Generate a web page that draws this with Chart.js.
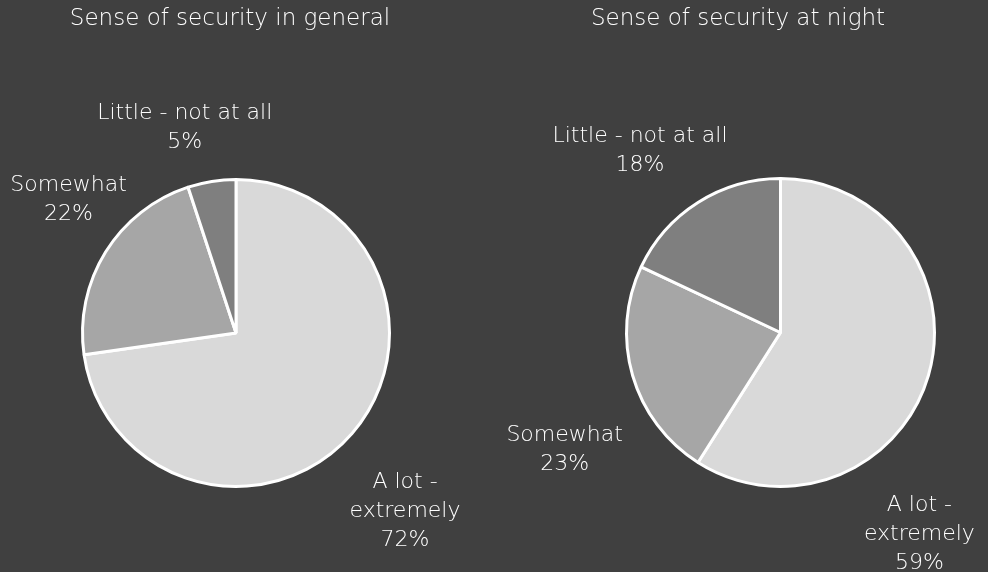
<!DOCTYPE html>
<html><head><meta charset="utf-8">
<script src="https://cdn.jsdelivr.net/npm/chart.js@4.4.0/dist/chart.umd.min.js"></script>
<style>
html,body{margin:0;padding:0;background:#404040;}
#wrap{position:relative;width:988px;height:572px;background:#404040;overflow:hidden;}
.c{position:absolute;top:0;}
</style></head><body>
<div id="wrap">
<canvas id="c1" class="c" width="494" height="572" style="left:0px"></canvas>
<canvas id="c2" class="c" width="494" height="572" style="left:494px"></canvas>
</div>
<script>
// ---- data ----
const titles = ["Sense of security in general", "Sense of security at night"];
const categories = ["A lot - extremely", "Somewhat", "Little - not at all"];
const categoryLines = [["A lot -", "extremely"], ["Somewhat"], ["Little - not at all"]];
const generalValues = [72, 22, 5];
const nightValues = [59, 23, 18];

// ---- style / layout ----
const sliceColors = ["#d9d9d9", "#a6a6a6", "#7f7f7f"];
const textColor = "#ffffff";
const FONT = "'DejaVu Sans', sans-serif";
const labelOffsets = [
  [[53, 78], [-37, -52], [-27, -54]],
  [[-9, 159], [-68, 74], [-58, -52]]
];
const titleX = [230, 244];
const paddings = [
  {left: 81, right: 103, top: 178, bottom: 84},
  {left: 131, right: 52, top: 177, bottom: 84}
];

function makeLabelPlugin(idx) {
  return {
    id: 'lbl' + idx,
    afterDraw(chart) {
      const ctx = chart.ctx;
      ctx.save();
      ctx.fillStyle = textColor;
      ctx.textAlign = 'center';
      ctx.textBaseline = 'middle';
      ctx.font = "200 23px " + FONT;
      ctx.fillText(titles[idx], titleX[idx], 19);
      ctx.font = "200 22px " + FONT;
      const meta = chart.getDatasetMeta(0);
      const vals = chart.data.datasets[0].data;
      meta.data.forEach((arc, i) => {
        const p = arc.getProps(['x', 'y', 'startAngle', 'endAngle', 'outerRadius'], true);
        const mid = (p.startAngle + p.endAngle) / 2;
        const ax = p.x + Math.cos(mid) * p.outerRadius + labelOffsets[idx][i][0];
        const ay = p.y + Math.sin(mid) * p.outerRadius + labelOffsets[idx][i][1];
        const lines = categoryLines[i].concat([vals[i] + "%"]);
        const lh = 29;
        const y0 = ay - (lines.length - 1) * lh / 2;
        lines.forEach((t, k) => ctx.fillText(t, ax, y0 + k * lh));
      });
      ctx.restore();
    }
  };
}

function makeChart(id, values, idx) {
  return new Chart(document.getElementById(id), {
    type: 'pie',
    data: {
      labels: categories,
      datasets: [{
        data: values,
        backgroundColor: sliceColors,
        borderColor: '#ffffff',
        borderWidth: 3
      }]
    },
    options: {
      responsive: false,
      animation: false,
      layout: {padding: paddings[idx]},
      plugins: {legend: {display: false}, tooltip: {enabled: false}, title: {display: false}}
    },
    plugins: [makeLabelPlugin(idx)]
  });
}
makeChart('c1', generalValues, 0);
makeChart('c2', nightValues, 1);
</script>
</body></html>
